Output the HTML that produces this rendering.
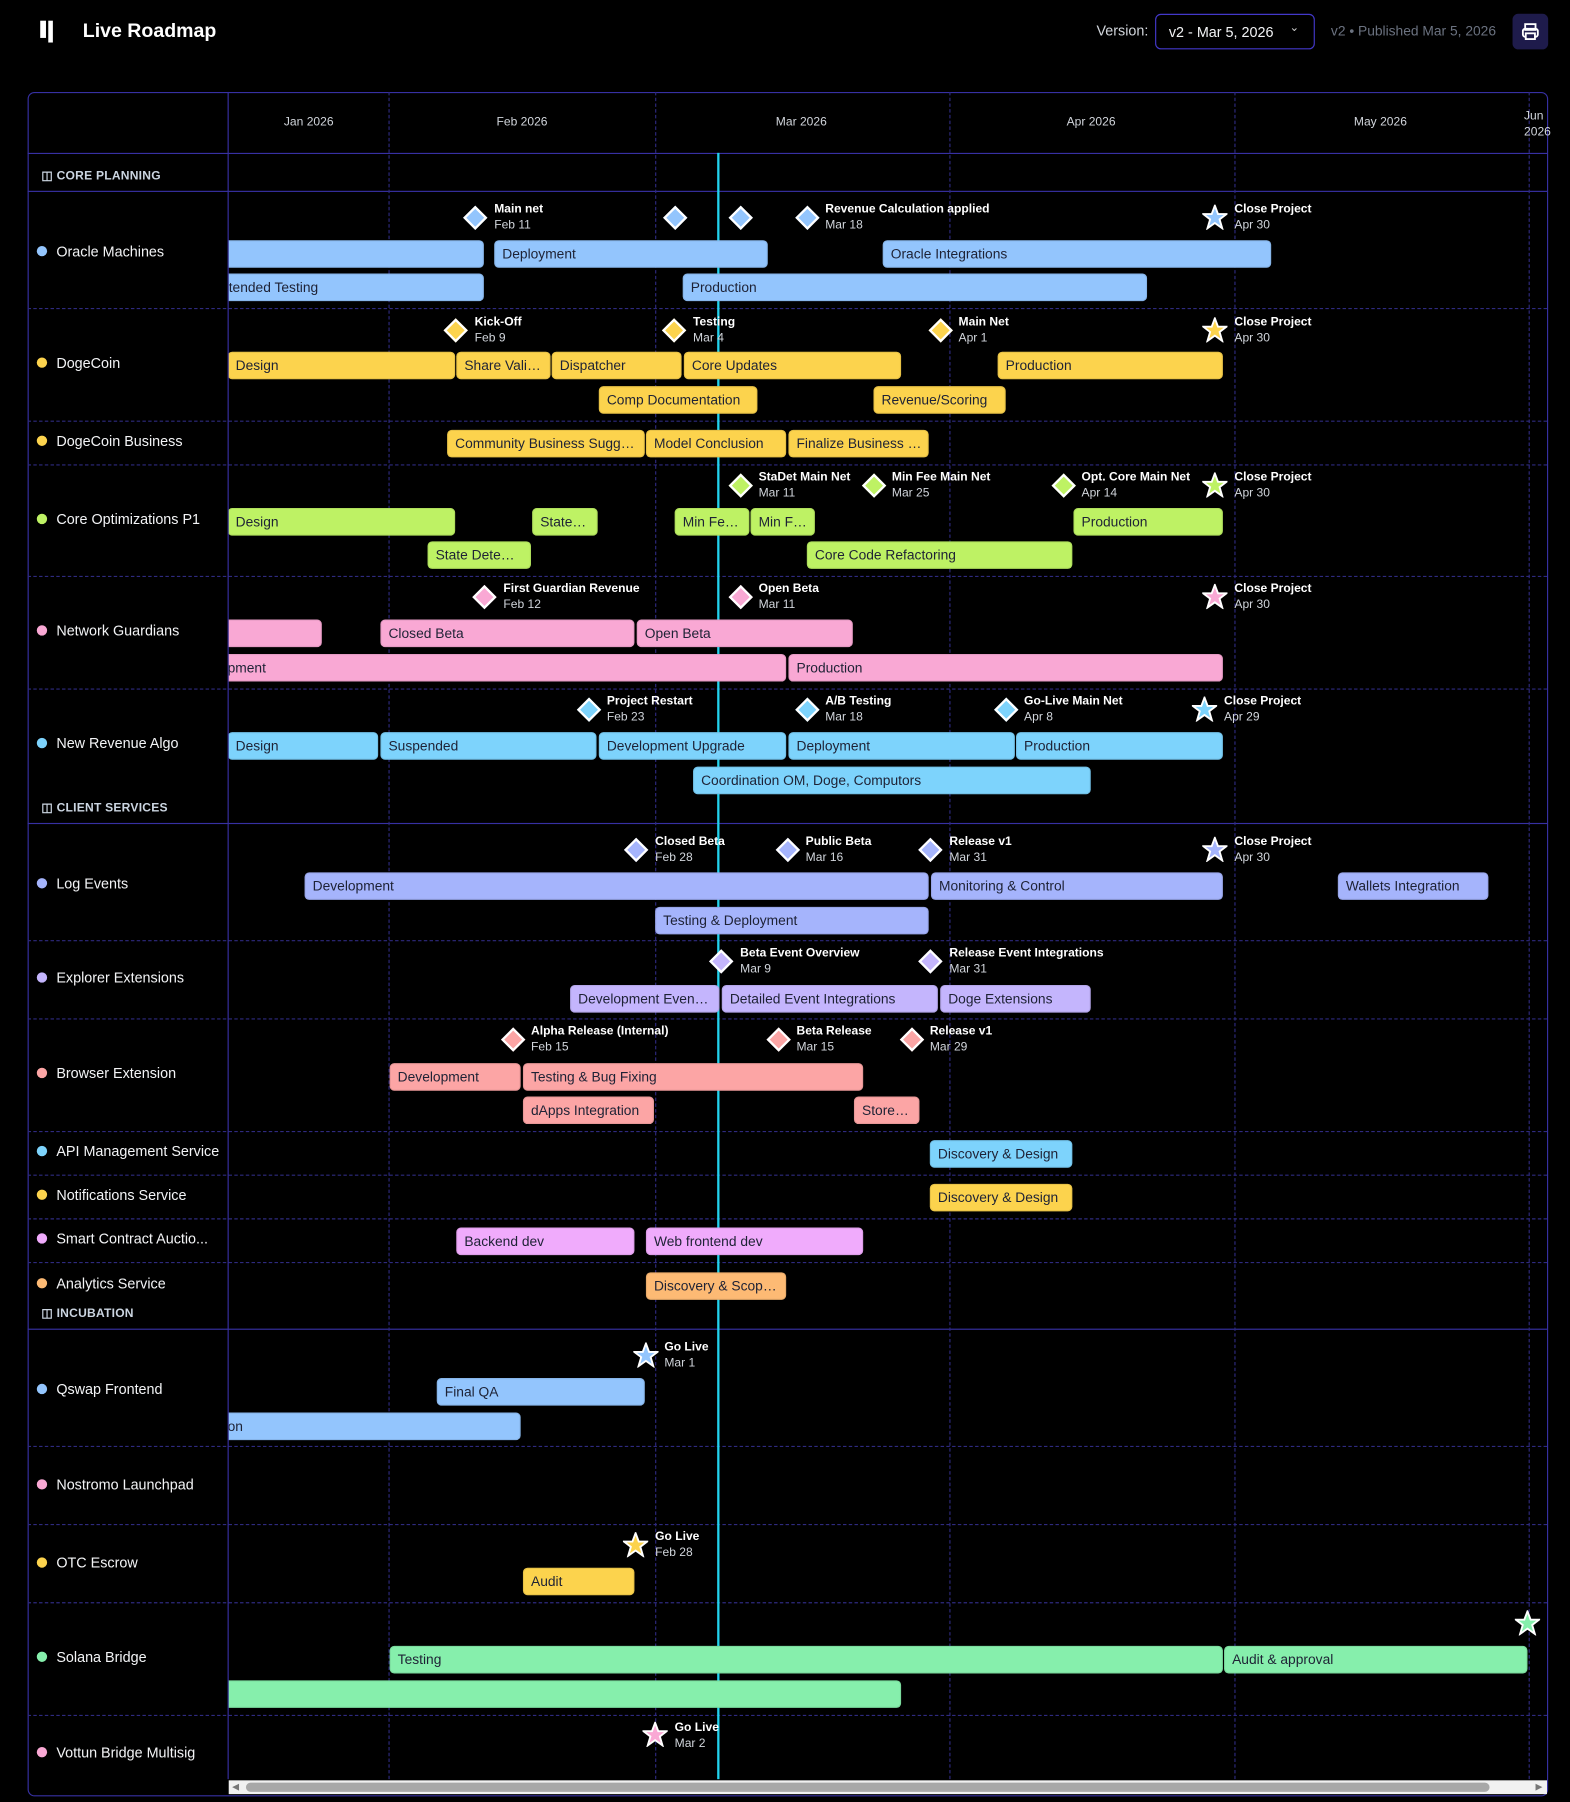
<!DOCTYPE html>
<html><head><meta charset="utf-8"><style>
html,body{margin:0;padding:0;background:#000;width:1570px;height:1802px;overflow:hidden}
#w{position:absolute;left:0;top:0;width:1366px;height:1568px;transform:scale(1.14934);transform-origin:0 0;font-family:"Liberation Sans",sans-serif;color:#e5e7eb}
#w div{position:absolute;box-sizing:border-box}
.b{height:24px;border-radius:4px;padding-left:7px;line-height:24px;font-size:12px;color:#1e2235;white-space:nowrap;overflow:hidden;box-shadow:inset 0 0 0 1px rgba(0,0,0,.08)}
.d{width:15px;height:15px;transform:rotate(45deg);border:2px solid #fff}
.m{font-size:10.5px;line-height:14px;color:#fff;white-space:nowrap}
.m b{display:block}
.m span{color:#d1d5db}
.vl{width:0;border-left:1px dashed #2e2a7f;top:80px;height:1468px}
.hl{left:24px;width:1322px;height:0;border-top:1px dashed #2e2a7f}
.sl{left:24px;width:1322px;height:0;border-top:1px solid #3730a3}
.lb{left:32px;font-size:12.5px;color:#f3f4f6;white-space:nowrap;height:16px;line-height:16px}
.lb i{display:inline-block;width:9px;height:9px;border-radius:50%;margin-right:8px;vertical-align:-0px}
.sec{left:36px;font-size:10.5px;font-weight:bold;color:#cbd5e1;letter-spacing:.2px}
.mo{font-size:10.5px;color:#d1d5db;top:100px}
.st{width:22px;height:22px}
</style></head><body><div id="w">
<!-- header -->
<div style="left:35px;top:18px;width:5px;height:15px;background:#fff"></div>
<div style="left:42px;top:18px;width:4px;height:19px;background:#fff"></div>
<div style="left:72px;top:17px;font-size:17px;font-weight:bold;color:#fff">Live Roadmap</div>
<div style="left:954px;top:20px;font-size:12.5px;color:#d1d5db">Version:</div>
<div style="left:1005px;top:12px;width:139px;height:31px;border:1px solid #4338ca;border-radius:5px;font-size:12.5px;color:#f3f4f6;padding:8px 0 0 11px">v2 - Mar 5, 2026<span style="position:absolute;left:116px;top:6px;font-size:10px;color:#ccc">&#8964;</span></div>
<div style="left:1158px;top:20px;font-size:12px;color:#6b7280">v2 • Published Mar 5, 2026</div>
<div style="left:1316px;top:12px;width:31px;height:31px;background:#1e1b4b;border-radius:5px"><svg width="31" height="31" viewBox="0 0 31 31"><rect x="11" y="9" width="9" height="5" fill="none" stroke="#fff" stroke-width="1.6"/><rect x="9" y="13" width="13" height="7" rx="2" fill="none" stroke="#fff" stroke-width="1.6"/><rect x="11.5" y="17" width="8" height="5" fill="#1e1b4b" stroke="#fff" stroke-width="1.6"/></svg></div>
<!-- frame -->
<div style="left:24px;top:80px;width:1323px;height:1483px;border:1px solid #3730a3;border-radius:6px"></div>
<div style="left:198px;top:80px;width:0;height:1468px;border-left:1px solid #3730a3"></div>
<div class="sl" style="top:133px"></div>
<div class="sl" style="top:166px"></div>
<div class="sl" style="top:716px"></div>
<div class="sl" style="top:1156px"></div>
<div class="vl" style="left:338px"></div><div class="vl" style="left:570px"></div><div class="vl" style="left:826px"></div><div class="vl" style="left:1074px"></div><div class="vl" style="left:1330px"></div>
<div class="mo" style="left:247px">Jan 2026</div><div class="mo" style="left:432px">Feb 2026</div><div class="mo" style="left:675px">Mar 2026</div><div class="mo" style="left:928px">Apr 2026</div><div class="mo" style="left:1178px">May 2026</div>
<div class="mo" style="left:1326px;top:94px;line-height:14px">Jun<br>2026</div>
<div class="hl" style="top:268px"></div><div class="hl" style="top:366px"></div><div class="hl" style="top:404px"></div><div class="hl" style="top:501px"></div><div class="hl" style="top:599px"></div>
<div class="hl" style="top:818px"></div><div class="hl" style="top:886px"></div><div class="hl" style="top:984px"></div><div class="hl" style="top:1022px"></div><div class="hl" style="top:1060px"></div><div class="hl" style="top:1098px"></div>
<div class="hl" style="top:1258px"></div><div class="hl" style="top:1326px"></div><div class="hl" style="top:1394px"></div><div class="hl" style="top:1492px"></div>
<!-- sections -->
<div class="sec" style="top:147px">&#9707; CORE PLANNING</div>
<div class="sec" style="top:697px">&#9707; CLIENT SERVICES</div>
<div class="sec" style="top:1137px">&#9707; INCUBATION</div>
<!-- labels -->
<div class="lb" style="top:211px"><i style="background:#93c5fd"></i>Oracle Machines</div>
<div class="lb" style="top:308px"><i style="background:#fcd34d"></i>DogeCoin</div>
<div class="lb" style="top:376px"><i style="background:#fcd34d"></i>DogeCoin Business</div>
<div class="lb" style="top:444px"><i style="background:#bef264"></i>Core Optimizations P1</div>
<div class="lb" style="top:541px"><i style="background:#f9a8d4"></i>Network Guardians</div>
<div class="lb" style="top:639px"><i style="background:#7dd3fc"></i>New Revenue Algo</div>
<div class="lb" style="top:761px"><i style="background:#a5b4fc"></i>Log Events</div>
<div class="lb" style="top:843px"><i style="background:#c4b5fd"></i>Explorer Extensions</div>
<div class="lb" style="top:926px"><i style="background:#fca5a5"></i>Browser Extension</div>
<div class="lb" style="top:994px"><i style="background:#7dd3fc"></i>API Management Service</div>
<div class="lb" style="top:1032px"><i style="background:#fcd34d"></i>Notifications Service</div>
<div class="lb" style="top:1070px"><i style="background:#f0abfc"></i>Smart Contract Auctio...</div>
<div class="lb" style="top:1109px"><i style="background:#fdba74"></i>Analytics Service</div>
<div class="lb" style="top:1201px"><i style="background:#93c5fd"></i>Qswap Frontend</div>
<div class="lb" style="top:1284px"><i style="background:#f9a8d4"></i>Nostromo Launchpad</div>
<div class="lb" style="top:1352px"><i style="background:#fcd34d"></i>OTC Escrow</div>
<div class="lb" style="top:1434px"><i style="background:#86efac"></i>Solana Bridge</div>
<div class="lb" style="top:1517px"><i style="background:#f9a8d4"></i>Vottun Bridge Multisig</div>

<!-- today -->
<div style="left:624px;top:133px;width:2px;height:1415px;background:#22d3ee"></div>

<!-- bars -->
<div style="left:199px;top:133px;width:1147px;height:1415px;overflow:hidden">
<div style="left:-199px;top:-133px;width:1366px;height:1568px">
<!-- Oracle -->
<div class="b" style="left:190px;top:209px;width:231px;background:#93c5fd"></div>
<div class="b" style="left:430px;top:209px;width:238px;background:#93c5fd">Deployment</div>
<div class="b" style="left:768px;top:209px;width:338px;background:#93c5fd">Oracle Integrations</div>
<div class="b" style="left:190px;top:238px;width:231px;background:#93c5fd;padding-left:3px">&#8203;<span>xtended Testing</span></div>
<div class="b" style="left:594px;top:238px;width:404px;background:#93c5fd">Production</div>
<!-- Doge -->
<div class="b" style="left:198px;top:306px;width:198px;background:#fcd34d">Design</div>
<div class="b" style="left:397px;top:306px;width:82px;background:#fcd34d">Share Vali…</div>
<div class="b" style="left:480px;top:306px;width:113px;background:#fcd34d">Dispatcher</div>
<div class="b" style="left:595px;top:306px;width:189px;background:#fcd34d">Core Updates</div>
<div class="b" style="left:868px;top:306px;width:196px;background:#fcd34d">Production</div>
<div class="b" style="left:521px;top:336px;width:138px;background:#fcd34d">Comp Documentation</div>
<div class="b" style="left:760px;top:336px;width:115px;background:#fcd34d">Revenue/Scoring</div>
<div class="b" style="left:389px;top:374px;width:172px;background:#fcd34d">Community Business Sugg…</div>
<div class="b" style="left:562px;top:374px;width:122px;background:#fcd34d">Model Conclusion</div>
<div class="b" style="left:686px;top:374px;width:122px;background:#fcd34d">Finalize Business …</div>
<!-- Core opt -->
<div class="b" style="left:198px;top:442px;width:198px;background:#bef264">Design</div>
<div class="b" style="left:463px;top:442px;width:57px;background:#bef264">State…</div>
<div class="b" style="left:587px;top:442px;width:65px;background:#bef264">Min Fe…</div>
<div class="b" style="left:653px;top:442px;width:56px;background:#bef264">Min F…</div>
<div class="b" style="left:934px;top:442px;width:130px;background:#bef264">Production</div>
<div class="b" style="left:372px;top:471px;width:90px;background:#bef264">State Dete…</div>
<div class="b" style="left:702px;top:471px;width:231px;background:#bef264">Core Code Refactoring</div>
<!-- Network -->
<div class="b" style="left:190px;top:539px;width:90px;background:#f9a8d4"></div>
<div class="b" style="left:331px;top:539px;width:221px;background:#f9a8d4">Closed Beta</div>
<div class="b" style="left:554px;top:539px;width:188px;background:#f9a8d4">Open Beta</div>
<div class="b" style="left:190px;top:569px;width:494px;background:#f9a8d4;padding-left:8px">pment</div>
<div class="b" style="left:686px;top:569px;width:378px;background:#f9a8d4">Production</div>
<!-- New rev -->
<div class="b" style="left:198px;top:637px;width:131px;background:#7dd3fc">Design</div>
<div class="b" style="left:331px;top:637px;width:188px;background:#7dd3fc">Suspended</div>
<div class="b" style="left:521px;top:637px;width:163px;background:#7dd3fc">Development Upgrade</div>
<div class="b" style="left:686px;top:637px;width:197px;background:#7dd3fc">Deployment</div>
<div class="b" style="left:884px;top:637px;width:180px;background:#7dd3fc">Production</div>
<div class="b" style="left:603px;top:667px;width:346px;background:#7dd3fc">Coordination OM, Doge, Computors</div>
<!-- Log -->
<div class="b" style="left:265px;top:759px;width:543px;background:#a5b4fc">Development</div>
<div class="b" style="left:810px;top:759px;width:254px;background:#a5b4fc">Monitoring &amp; Control</div>
<div class="b" style="left:1164px;top:759px;width:131px;background:#a5b4fc">Wallets Integration</div>
<div class="b" style="left:570px;top:789px;width:238px;background:#a5b4fc">Testing &amp; Deployment</div>
<!-- Explorer -->
<div class="b" style="left:496px;top:857px;width:130px;background:#c4b5fd">Development Even…</div>
<div class="b" style="left:628px;top:857px;width:188px;background:#c4b5fd">Detailed Event Integrations</div>
<div class="b" style="left:818px;top:857px;width:131px;background:#c4b5fd">Doge Extensions</div>
<!-- Browser -->
<div class="b" style="left:339px;top:925px;width:114px;background:#fca5a5">Development</div>
<div class="b" style="left:455px;top:925px;width:296px;background:#fca5a5">Testing &amp; Bug Fixing</div>
<div class="b" style="left:455px;top:954px;width:114px;background:#fca5a5">dApps Integration</div>
<div class="b" style="left:743px;top:954px;width:57px;background:#fca5a5">Store…</div>
<div class="b" style="left:809px;top:992px;width:124px;background:#7dd3fc">Discovery &amp; Design</div>
<div class="b" style="left:809px;top:1030px;width:124px;background:#fcd34d">Discovery &amp; Design</div>
<div class="b" style="left:397px;top:1068px;width:155px;background:#f0abfc">Backend dev</div>
<div class="b" style="left:562px;top:1068px;width:189px;background:#f0abfc">Web frontend dev</div>
<div class="b" style="left:562px;top:1107px;width:122px;background:#fdba74">Discovery &amp; Scop…</div>
<!-- Incubation -->
<div class="b" style="left:380px;top:1199px;width:181px;background:#93c5fd">Final QA</div>
<div class="b" style="left:190px;top:1229px;width:263px;background:#93c5fd;padding-left:8px">on</div>
<div class="b" style="left:455px;top:1364px;width:97px;background:#fcd34d">Audit</div>
<div class="b" style="left:339px;top:1432px;width:725px;background:#86efac">Testing</div>
<div class="b" style="left:1065px;top:1432px;width:264px;background:#86efac">Audit &amp; approval</div>
<div class="b" style="left:190px;top:1462px;width:594px;background:#86efac"></div>
</div></div>

<!-- milestones -->
<div class="d" style="left:406px;top:182px;background:#93c5fd"></div><div class="m" style="left:430px;top:175px"><b>Main net</b><span>Feb 11</span></div>
<div class="d" style="left:580px;top:182px;background:#93c5fd"></div>
<div class="d" style="left:637px;top:182px;background:#93c5fd"></div>
<div class="d" style="left:695px;top:182px;background:#93c5fd"></div><div class="m" style="left:718px;top:175px"><b>Revenue Calculation applied</b><span>Mar 18</span></div>
<svg class="st" style="position:absolute;left:1046px;top:178px" viewBox="0 0 24 24"><polygon points="12,1 15,9 23,9 16.5,14 19,22.5 12,17.5 5,22.5 7.5,14 1,9 9,9" fill="#93c5fd" stroke="#fff" stroke-width="1.8"/></svg><div class="m" style="left:1074px;top:175px"><b>Close Project</b><span>Apr 30</span></div>

<div class="d" style="left:389px;top:280px;background:#fcd34d"></div><div class="m" style="left:413px;top:273px"><b>Kick-Off</b><span>Feb 9</span></div>
<div class="d" style="left:579px;top:280px;background:#fcd34d"></div><div class="m" style="left:603px;top:273px"><b>Testing</b><span>Mar 4</span></div>
<div class="d" style="left:811px;top:280px;background:#fcd34d"></div><div class="m" style="left:834px;top:273px"><b>Main Net</b><span>Apr 1</span></div>
<svg class="st" style="position:absolute;left:1046px;top:276px" viewBox="0 0 24 24"><polygon points="12,1 15,9 23,9 16.5,14 19,22.5 12,17.5 5,22.5 7.5,14 1,9 9,9" fill="#fcd34d" stroke="#fff" stroke-width="1.8"/></svg><div class="m" style="left:1074px;top:273px"><b>Close Project</b><span>Apr 30</span></div>

<div class="d" style="left:637px;top:415px;background:#bef264"></div><div class="m" style="left:660px;top:408px"><b>StaDet Main Net</b><span>Mar 11</span></div>
<div class="d" style="left:753px;top:415px;background:#bef264"></div><div class="m" style="left:776px;top:408px"><b>Min Fee Main Net</b><span>Mar 25</span></div>
<div class="d" style="left:918px;top:415px;background:#bef264"></div><div class="m" style="left:941px;top:408px"><b>Opt. Core Main Net</b><span>Apr 14</span></div>
<svg class="st" style="position:absolute;left:1046px;top:411px" viewBox="0 0 24 24"><polygon points="12,1 15,9 23,9 16.5,14 19,22.5 12,17.5 5,22.5 7.5,14 1,9 9,9" fill="#bef264" stroke="#fff" stroke-width="1.8"/></svg><div class="m" style="left:1074px;top:408px"><b>Close Project</b><span>Apr 30</span></div>

<div class="d" style="left:414px;top:512px;background:#f9a8d4"></div><div class="m" style="left:438px;top:505px"><b>First Guardian Revenue</b><span>Feb 12</span></div>
<div class="d" style="left:637px;top:512px;background:#f9a8d4"></div><div class="m" style="left:660px;top:505px"><b>Open Beta</b><span>Mar 11</span></div>
<svg class="st" style="position:absolute;left:1046px;top:508px" viewBox="0 0 24 24"><polygon points="12,1 15,9 23,9 16.5,14 19,22.5 12,17.5 5,22.5 7.5,14 1,9 9,9" fill="#f9a8d4" stroke="#fff" stroke-width="1.8"/></svg><div class="m" style="left:1074px;top:505px"><b>Close Project</b><span>Apr 30</span></div>

<div class="d" style="left:505px;top:610px;background:#7dd3fc"></div><div class="m" style="left:528px;top:603px"><b>Project Restart</b><span>Feb 23</span></div>
<div class="d" style="left:695px;top:610px;background:#7dd3fc"></div><div class="m" style="left:718px;top:603px"><b>A/B Testing</b><span>Mar 18</span></div>
<div class="d" style="left:868px;top:610px;background:#7dd3fc"></div><div class="m" style="left:891px;top:603px"><b>Go-Live Main Net</b><span>Apr 8</span></div>
<svg class="st" style="position:absolute;left:1037px;top:606px" viewBox="0 0 24 24"><polygon points="12,1 15,9 23,9 16.5,14 19,22.5 12,17.5 5,22.5 7.5,14 1,9 9,9" fill="#7dd3fc" stroke="#fff" stroke-width="1.8"/></svg><div class="m" style="left:1065px;top:603px"><b>Close Project</b><span>Apr 29</span></div>

<div class="d" style="left:546px;top:732px;background:#a5b4fc"></div><div class="m" style="left:570px;top:725px"><b>Closed Beta</b><span>Feb 28</span></div>
<div class="d" style="left:678px;top:732px;background:#a5b4fc"></div><div class="m" style="left:701px;top:725px"><b>Public Beta</b><span>Mar 16</span></div>
<div class="d" style="left:802px;top:732px;background:#a5b4fc"></div><div class="m" style="left:826px;top:725px"><b>Release v1</b><span>Mar 31</span></div>
<svg class="st" style="position:absolute;left:1046px;top:728px" viewBox="0 0 24 24"><polygon points="12,1 15,9 23,9 16.5,14 19,22.5 12,17.5 5,22.5 7.5,14 1,9 9,9" fill="#a5b4fc" stroke="#fff" stroke-width="1.8"/></svg><div class="m" style="left:1074px;top:725px"><b>Close Project</b><span>Apr 30</span></div>

<div class="d" style="left:620px;top:829px;background:#c4b5fd"></div><div class="m" style="left:644px;top:822px"><b>Beta Event Overview</b><span>Mar 9</span></div>
<div class="d" style="left:802px;top:829px;background:#c4b5fd"></div><div class="m" style="left:826px;top:822px"><b>Release Event Integrations</b><span>Mar 31</span></div>

<div class="d" style="left:439px;top:897px;background:#fca5a5"></div><div class="m" style="left:462px;top:890px"><b>Alpha Release (Internal)</b><span>Feb 15</span></div>
<div class="d" style="left:670px;top:897px;background:#fca5a5"></div><div class="m" style="left:693px;top:890px"><b>Beta Release</b><span>Mar 15</span></div>
<div class="d" style="left:786px;top:897px;background:#fca5a5"></div><div class="m" style="left:809px;top:890px"><b>Release v1</b><span>Mar 29</span></div>

<svg class="st" style="position:absolute;left:551px;top:1168px" viewBox="0 0 24 24"><polygon points="12,1 15,9 23,9 16.5,14 19,22.5 12,17.5 5,22.5 7.5,14 1,9 9,9" fill="#93c5fd" stroke="#fff" stroke-width="1.8"/></svg><div class="m" style="left:578px;top:1165px"><b>Go Live</b><span>Mar 1</span></div>
<svg class="st" style="position:absolute;left:542px;top:1333px" viewBox="0 0 24 24"><polygon points="12,1 15,9 23,9 16.5,14 19,22.5 12,17.5 5,22.5 7.5,14 1,9 9,9" fill="#fcd34d" stroke="#fff" stroke-width="1.8"/></svg><div class="m" style="left:570px;top:1330px"><b>Go Live</b><span>Feb 28</span></div>
<svg class="st" style="position:absolute;left:1318px;top:1401px" viewBox="0 0 24 24"><polygon points="12,1 15,9 23,9 16.5,14 19,22.5 12,17.5 5,22.5 7.5,14 1,9 9,9" fill="#86efac" stroke="#fff" stroke-width="1.8"/></svg>
<svg class="st" style="position:absolute;left:559px;top:1498px" viewBox="0 0 24 24"><polygon points="12,1 15,9 23,9 16.5,14 19,22.5 12,17.5 5,22.5 7.5,14 1,9 9,9" fill="#f9a8d4" stroke="#fff" stroke-width="1.8"/></svg><div class="m" style="left:587px;top:1496px"><b>Go Live</b><span>Mar 2</span></div>
<!-- scrollbar -->
<div style="left:199px;top:1549px;width:1147px;height:12px;background:#f1f1f1"></div>
<div style="left:214px;top:1551px;width:1082px;height:8px;background:#a8a8a8;border-radius:4px"></div>
<div style="left:202px;top:1550px;font-size:8px;color:#777">&#9664;</div>
<div style="left:1336px;top:1550px;font-size:8px;color:#777">&#9654;</div>
</div></body></html>
